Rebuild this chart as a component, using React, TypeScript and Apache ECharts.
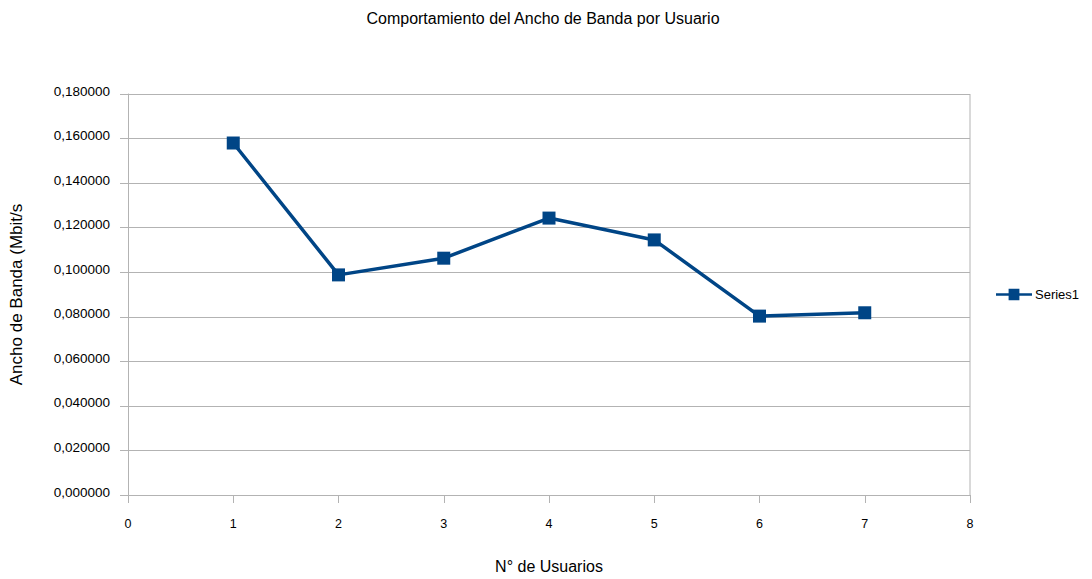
import React, { useEffect, useRef } from "react";
import * as echarts from "echarts";

const xValues = [1, 2, 3, 4, 5, 6, 7];
const seriesValues = [0.158, 0.0988, 0.1063, 0.1243, 0.1145, 0.0803, 0.0818];
const seriesName = "Series1";
const titleText = "Comportamiento del Ancho de Banda por Usuario";
const xAxisName = "N° de Usuarios";
const yAxisName = "Ancho de Banda (Mbit/s";

export default function App() {
  const ref = useRef<HTMLDivElement>(null);
  useEffect(() => {
    if (!ref.current) return;
    const chart = echarts.init(ref.current, undefined, { renderer: "svg" });
    const color = "#004586";
    chart.setOption({
      animation: false,
      backgroundColor: "#ffffff",
      title: {
        text: titleText,
        left: 538,
        top: 5,
        textAlign: "center",
        textStyle: { fontFamily: "Liberation Sans", fontSize: 16, fontWeight: "normal", color: "#000" },
      },
      legend: {
        left: 991,
        top: 283,
        orient: "vertical",
        itemWidth: 36,
        itemHeight: 13,
        itemGap: 4,
        textStyle: { fontFamily: "Liberation Sans", fontSize: 13, color: "#000", padding: [-10, 0, 0, -2] },
        data: [{ name: seriesName, icon: "path://M0,5 L14,5 L14,0 L26,0 L26,5 L40,5 L40,8 L26,8 L26,13 L14,13 L14,8 L0,8 Z" }],
      },
      grid: { left: 121, top: 94, right: 122, bottom: 74, containLabel: false, show: false },
      xAxis: {
        type: "value",
        min: 0,
        max: 8,
        interval: 1,
        name: xAxisName,
        nameLocation: "middle",
        nameGap: 63,
        nameTextStyle: { fontFamily: "Liberation Sans", fontSize: 16, color: "#000" },
        axisLine: { show: true, lineStyle: { color: "#b3b3b3", width: 1 } },
        axisTick: { show: true, length: 8, lineStyle: { color: "#b3b3b3" } },
        axisLabel: { fontFamily: "Liberation Sans", fontSize: 12.5, color: "#000", margin: 22 },
        splitLine: { show: false },
      },
      yAxis: {
        type: "value",
        min: 0,
        max: 0.18,
        interval: 0.02,
        name: yAxisName,
        nameLocation: "middle",
        nameGap: 103,
        nameRotate: 90,
        nameTextStyle: { fontFamily: "Liberation Sans", fontSize: 17, color: "#000" },
        axisLine: { show: true, lineStyle: { color: "#b3b3b3", width: 1 } },
        axisTick: { show: true, length: 8, lineStyle: { color: "#b3b3b3" } },
        axisLabel: {
          fontFamily: "Liberation Sans",
          fontSize: 13.5,
          color: "#000",
          margin: 18,
          verticalAlign: "bottom",
          padding: [0, 0, -4, 0],
          formatter: (v: number) => v.toFixed(6).replace(".", ","),
        },
        splitLine: { show: true, lineStyle: { color: "#b3b3b3", width: 1 } },
      },
      graphic: [],
      series: [
        {
          name: seriesName,
          type: "line",
          data: xValues.map((x, i) => [x, seriesValues[i]]),
          symbol: "rect",
          symbolSize: 13,
          lineStyle: { color, width: 3.5 },
          itemStyle: { color },
        },
      ],
    });
    const g = (chart as any).convertToPixel({ gridIndex: 0 }, [8, 0.18]);
    const b = (chart as any).convertToPixel({ gridIndex: 0 }, [8, 0]);
    chart.setOption({
      graphic: [
        {
          type: "line",
          shape: { x1: g[0], y1: g[1], x2: b[0], y2: b[1] },
          style: { stroke: "#b3b3b3", lineWidth: 1 },
          silent: true,
        },
      ],
    });
    return () => chart.dispose();
  }, []);
  return <div ref={ref} style={{ width: 1092, height: 579, position: "absolute", left: 0, top: 0 }} />;
}
